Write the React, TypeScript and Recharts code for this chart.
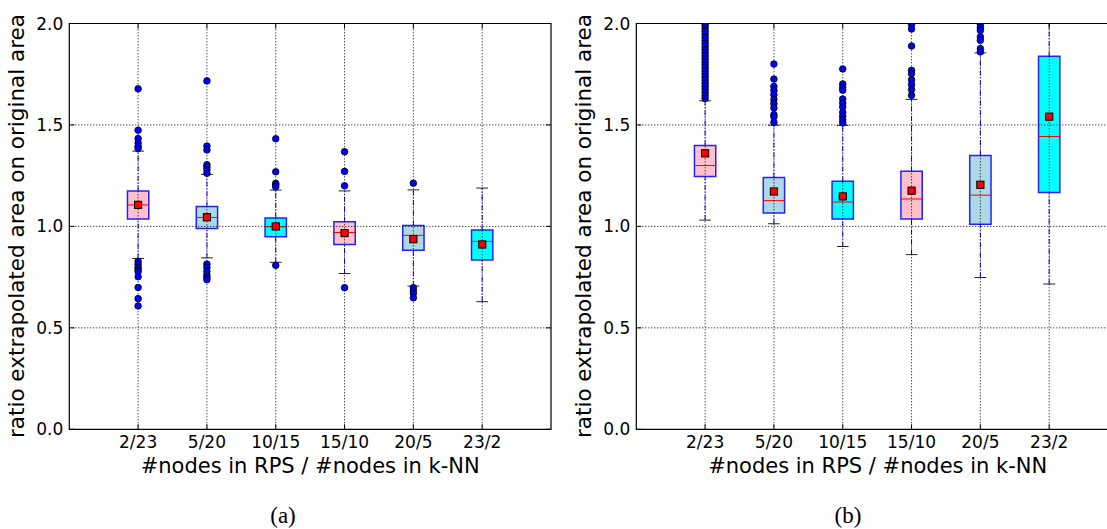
import React from 'react';
import { ComposedChart, XAxis, YAxis, Scatter, ReferenceArea, ReferenceLine } from 'recharts';

// ---------- data ----------
const CATEGORIES = ['2/23', '5/20', '10/15', '15/10', '20/5', '23/2'];
const POSITIONS = [1, 2, 3, 4, 5, 6];
const Y_TICKS = [0, 0.5, 1.0, 1.5, 2.0];

// panel (a)
const A_Q1 = [1.037, 0.990, 0.949, 0.911, 0.883, 0.834];
const A_Q3 = [1.175, 1.098, 1.042, 1.023, 1.005, 0.982];
const A_MEDIAN = [1.106, 1.044, 0.998, 0.970, 0.956, 0.926];
const A_MEAN = [1.106, 1.045, 1.000, 0.967, 0.937, 0.911];
const A_WHISK_LO = [0.842, 0.845, 0.823, 0.768, 0.706, 0.629];
const A_WHISK_HI = [1.371, 1.256, 1.179, 1.175, 1.180, 1.189];
const A_OUTLIERS = [
  [1.678, 1.474, 1.433, 1.412, 1.395, 1.384, 0.828, 0.814, 0.798, 0.788, 0.778, 0.752, 0.699, 0.644, 0.608],
  [1.717, 1.396, 1.377, 1.304, 1.293, 1.279, 1.262, 0.814, 0.798, 0.778, 0.760, 0.748, 0.737],
  [1.432, 1.269, 1.212, 1.204, 1.195, 0.808],
  [1.368, 1.271, 1.200, 0.698],
  [1.213, 0.698, 0.683, 0.670, 0.648],
  [],
];

// panel (b)
const B_Q1 = [1.246, 1.066, 1.036, 1.037, 1.011, 1.167];
const B_Q3 = [1.399, 1.241, 1.222, 1.272, 1.350, 1.838];
const B_MEDIAN = [1.300, 1.127, 1.120, 1.135, 1.154, 1.443];
const B_MEAN = [1.360, 1.172, 1.148, 1.176, 1.205, 1.541];
const B_WHISK_LO = [1.031, 1.013, 0.901, 0.861, 0.748, 0.716];
const B_WHISK_HI = [1.619, 1.499, 1.498, 1.626, 1.855, 2.35];
const B_OUTLIERS = [
  [1.630, 1.645, 1.660, 1.675, 1.690, 1.705, 1.720, 1.735, 1.750, 1.765, 1.780, 1.795, 1.810, 1.825,
    1.840, 1.855, 1.870, 1.885, 1.900, 1.915, 1.930, 1.945, 1.960, 1.975, 1.990, 2.000, 2.100, 2.300],
  [1.800, 1.726, 1.690, 1.670, 1.649, 1.625, 1.605, 1.584, 1.551, 1.540, 1.513],
  [1.776, 1.702, 1.685, 1.671, 1.628, 1.608, 1.589, 1.562, 1.543, 1.526, 1.510],
  [1.995, 1.973, 1.889, 1.769, 1.753, 1.723, 1.699, 1.674, 1.646, 2.200],
  [1.995, 1.979, 1.966, 1.934, 1.917, 1.876, 1.860, 2.100],
  [],
];

// ---------- styles ----------
const FILLS = ['#ffc0cb', '#add8e6', '#00ffff', '#ffc0cb', '#add8e6', '#00ffff'];
const BOX_HALF = 0.155;
const CAP_HALF = 0.085;
const TICK_X = 0.073;
const TICK_Y = 0.025;
const GRID = { stroke: '#000', strokeWidth: 1, strokeDasharray: '1 2' };
const SANS = 'DejaVu Sans, sans-serif';

const OutlierShape = (props: any) => {
  const { cx, cy } = props;
  if (cx == null || cy == null) return null;
  return <circle cx={cx} cy={cy} r={3.3} fill="#0000ff" stroke="#000" strokeWidth={0.8} />;
};

const MeanShape = (props: any) => {
  const { cx, cy } = props;
  if (cx == null || cy == null) return null;
  return <rect x={cx - 3.6} y={cy - 3.6} width={7.2} height={7.2} fill="#ff0000" stroke="#000" strokeWidth={1} />;
};

type PanelProps = {
  left: number;
  q1: number[];
  q3: number[];
  median: number[];
  mean: number[];
  lo: number[];
  hi: number[];
  outliers: number[][];
};

function Panel({ left, q1, q3, median, mean, lo, hi, outliers }: PanelProps) {
  const outlierPts = outliers.flatMap((vals, i) => vals.map((v) => ({ x: POSITIONS[i], y: v })));
  const meanPts = mean.map((v, i) => ({ x: POSITIONS[i], y: v }));
  return (
    <div style={{ position: 'absolute', left, top: 0 }}>
      <ComposedChart width={600} height={529} margin={{ top: 23.5, right: 49, bottom: 69.7, left: 0 }}>
        <XAxis
          type="number"
          dataKey="x"
          domain={[0, 7]}
          ticks={POSITIONS}
          interval={0}
          allowDataOverflow
          tickFormatter={(v: number) => CATEGORIES[v - 1]}
          height={30}
          axisLine={false}
          tickLine={false}
          tickSize={0}
          tickMargin={7}
          tick={{ fontSize: 17, fill: '#000', fontFamily: SANS }}
        />
        <YAxis
          type="number"
          dataKey="y"
          domain={[0, 2]}
          ticks={Y_TICKS}
          interval={0}
          allowDataOverflow
          width={69.3}
          axisLine={false}
          tickLine={false}
          tickSize={0}
          tickMargin={6}
          tickFormatter={(v: number) => v.toFixed(1)}
          tick={{ fontSize: 17, fill: '#000', fontFamily: SANS }}
        />
        {POSITIONS.map((p, i) => (
          <ReferenceArea
            key={'box' + i}
            x1={p - BOX_HALF}
            x2={p + BOX_HALF}
            y1={q1[i]}
            y2={q3[i]}
            fill={FILLS[i]}
            fillOpacity={1}
            stroke="#2222ff"
            strokeWidth={1.5}
            ifOverflow="hidden"
          />
        ))}
        {POSITIONS.map((p, i) => (
          <ReferenceLine
            key={'wl' + i}
            segment={[{ x: p, y: lo[i] }, { x: p, y: q1[i] }]}
            stroke="#0000ff"
            strokeWidth={1}
            strokeDasharray="5 2 1 2"
            ifOverflow="hidden"
          />
        ))}
        {POSITIONS.map((p, i) => (
          <ReferenceLine
            key={'wh' + i}
            segment={[{ x: p, y: q3[i] }, { x: p, y: hi[i] }]}
            stroke="#0000ff"
            strokeWidth={1}
            strokeDasharray="5 2 1 2"
            ifOverflow="hidden"
          />
        ))}
        {POSITIONS.map((p, i) => (
          <ReferenceLine
            key={'cl' + i}
            segment={[{ x: p - CAP_HALF, y: lo[i] }, { x: p + CAP_HALF, y: lo[i] }]}
            stroke="#222"
            strokeWidth={1}
            ifOverflow="hidden"
          />
        ))}
        {POSITIONS.map((p, i) => (
          <ReferenceLine
            key={'ch' + i}
            segment={[{ x: p - CAP_HALF, y: hi[i] }, { x: p + CAP_HALF, y: hi[i] }]}
            stroke="#222"
            strokeWidth={1}
            ifOverflow="hidden"
          />
        ))}
        {POSITIONS.map((p, i) => (
          <ReferenceLine
            key={'md' + i}
            segment={[{ x: p - BOX_HALF, y: median[i] }, { x: p + BOX_HALF, y: median[i] }]}
            stroke="#ff0000"
            strokeWidth={1}
            ifOverflow="hidden"
          />
        ))}
        {POSITIONS.map((p) => (
          <ReferenceLine key={'gx' + p} x={p} {...GRID} ifOverflow="hidden" />
        ))}
        {Y_TICKS.slice(1, -1).map((t) => (
          <ReferenceLine key={'gy' + t} y={t} {...GRID} ifOverflow="hidden" />
        ))}
        {Y_TICKS.map((t) => (
          <ReferenceLine key={'tl' + t} segment={[{ x: 0, y: t }, { x: TICK_X, y: t }]} stroke="#000" ifOverflow="hidden" />
        ))}
        {Y_TICKS.map((t) => (
          <ReferenceLine key={'tr' + t} segment={[{ x: 7 - TICK_X, y: t }, { x: 7, y: t }]} stroke="#000" ifOverflow="hidden" />
        ))}
        {POSITIONS.map((p) => (
          <ReferenceLine key={'tb' + p} segment={[{ x: p, y: 0 }, { x: p, y: TICK_Y }]} stroke="#000" ifOverflow="hidden" />
        ))}
        {POSITIONS.map((p) => (
          <ReferenceLine key={'tt' + p} segment={[{ x: p, y: 2 - TICK_Y }, { x: p, y: 2 }]} stroke="#000" ifOverflow="hidden" />
        ))}
        <ReferenceArea x1={0} x2={7} y1={0} y2={2} fill="none" fillOpacity={0} stroke="#000" strokeWidth={1.2} ifOverflow="visible" />
        <Scatter data={outlierPts} dataKey="y" shape={OutlierShape} isAnimationActive={false} />
        <Scatter data={meanPts} dataKey="y" shape={MeanShape} isAnimationActive={false} />
      </ComposedChart>
    </div>
  );
}

const yLabelStyle = (cx: number): React.CSSProperties => ({
  position: 'absolute',
  left: cx,
  top: 226,
  transform: 'translate(-50%, -50%) rotate(-90deg)',
  whiteSpace: 'nowrap',
  fontFamily: SANS,
  fontSize: 21.5,
  color: '#000',
  lineHeight: 'normal',
});

const xLabelStyle = (cx: number): React.CSSProperties => ({
  position: 'absolute',
  left: cx,
  top: 466,
  transform: 'translate(-50%, -50%)',
  whiteSpace: 'nowrap',
  fontFamily: SANS,
  fontSize: 21,
  color: '#000',
  lineHeight: 'normal',
});

const captionStyle = (cx: number): React.CSSProperties => ({
  position: 'absolute',
  left: cx,
  top: 516,
  transform: 'translate(-50%, -50%)',
  whiteSpace: 'nowrap',
  fontFamily: 'Liberation Serif, serif',
  fontSize: 23,
  color: '#000',
  lineHeight: 'normal',
});

export default function App() {
  return (
    <div style={{ position: 'absolute', left: 0, top: 0, width: 1107, height: 529, overflow: 'hidden', background: '#fff' }}>
      <Panel left={0} q1={A_Q1} q3={A_Q3} median={A_MEDIAN} mean={A_MEAN} lo={A_WHISK_LO} hi={A_WHISK_HI} outliers={A_OUTLIERS} />
      <Panel left={567.4} q1={B_Q1} q3={B_Q3} median={B_MEDIAN} mean={B_MEAN} lo={B_WHISK_LO} hi={B_WHISK_HI} outliers={B_OUTLIERS} />
      <div style={yLabelStyle(16)}>ratio extrapolated area on original area</div>
      <div style={yLabelStyle(583.4)}>ratio extrapolated area on original area</div>
      <div style={xLabelStyle(310.2)}>#nodes in RPS / #nodes in k-NN</div>
      <div style={xLabelStyle(877.7)}>#nodes in RPS / #nodes in k-NN</div>
      <div style={captionStyle(283)}>(a)</div>
      <div style={captionStyle(848)}>(b)</div>
    </div>
  );
}
